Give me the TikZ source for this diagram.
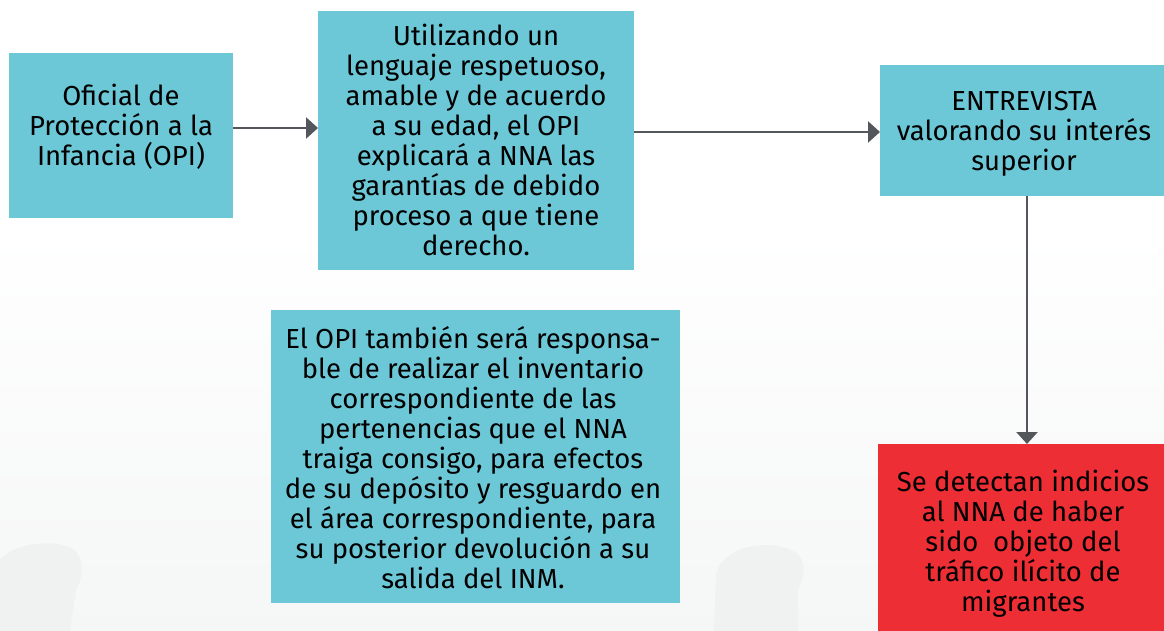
\documentclass[tikz,border=0pt]{standalone}
\usepackage{fontspec}
\setmainfont{Fira Sans}
\usetikzlibrary{arrows.meta}
\definecolor{boxcyan}{RGB}{108,200,215}
\definecolor{boxred}{RGB}{238,46,53}
\definecolor{arrowgray}{RGB}{83,86,90}
\definecolor{bgbottom}{RGB}{245,246,246}
\definecolor{ghost}{RGB}{240,241,241}
\begin{document}
\begin{tikzpicture}[x=1pt,y=-1pt,
  box/.style={fill=boxcyan, draw=none, inner sep=0pt, anchor=north west},
  redbox/.style={box, fill=boxred},
  label/.style={inner sep=0pt, align=center, text=black,
    font=\fontsize{27.5}{30}\selectfont},
  conn/.style={draw=arrowgray, line width=2.6pt, -{Triangle[length=12pt,width=21pt]}}]
\useasboundingbox (0,0) rectangle (1164,631);
\fill[white] (0,0) rectangle (1164,631);
\shade[top color=white, bottom color=bgbottom] (0,230) rectangle (1164,631);
% faint silhouettes
\fill[ghost] (0,631) -- (0,560) .. controls (10,545) and (50,538) .. (72,548) .. controls (84,556) and (84,575) .. (76,590) -- (70,631) -- cycle;
\fill[ghost] (714,631) -- (716,575) .. controls (722,545) and (770,538) .. (795,552) .. controls (808,562) and (804,578) .. (798,590) -- (798,631) -- cycle;
% boxes
\node[box, minimum width=224pt, minimum height=165pt] (a) at (9,53) {};
\node[box, minimum width=316pt, minimum height=259pt] (b) at (318,11) {};
\node[box, minimum width=284pt, minimum height=131pt] (c) at (880,65) {};
\node[redbox, minimum width=286pt, minimum height=187pt] (d) at (878,444) {};
\node[box, minimum width=409pt, minimum height=293pt] (e) at (271,310) {};
% texts
\node[label] (ta) at (121,127) {Oficial de\\Protección a la\\Infancia (OPI)};
\node[label] (tb) at (476,140) {Utilizando un\\lenguaje respetuoso,\\amable y de acuerdo\\a su edad, el OPI\\explicará a NNA las\\garantías de debido\\proceso a que tiene\\derecho.};
\node[label] (tc) at (1024,134) {ENTREVISTA\\valorando su interés\\superior};
\node[label] (td) at (1023,544) {Se detectan indicios\\al NNA de haber\\sido\ \ objeto del\\tráfico ilícito de\\migrantes};
\node[label] (te) at (473,458) {El OPI también será responsa-\\ble de realizar el inventario\\correspondiente de las\\pertenencias que el NNA\\traiga consigo, para efectos\\de su depósito y resguardo en\\el área correspondiente, para\\su posterior devolución a su\\salida del INM.};
% connectors
\draw[conn] (a.east |- 0,128) -- (b.west |- 0,128);
\draw[conn] (b.east |- 0,132) -- (c.west |- 0,132);
\draw[conn] (c.south -| 1027,0) -- (d.north -| 1027,0);
\end{tikzpicture}
\end{document}
